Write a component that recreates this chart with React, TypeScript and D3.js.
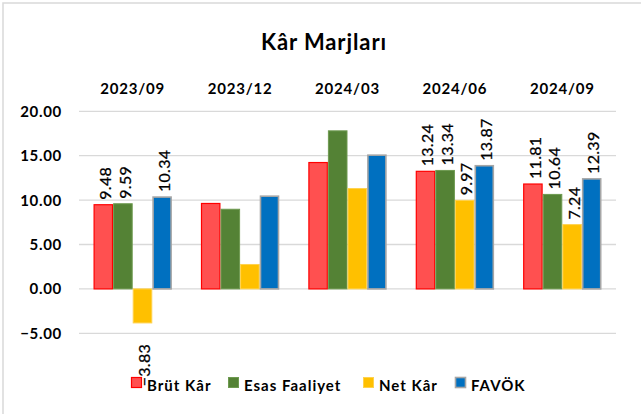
import React from "react";
import * as d3 from "d3";

const categories = ["2023/09", "2023/12", "2024/03", "2024/06", "2024/09"];
const seriesNames = ["Brüt Kâr", "Esas Faaliyet", "Net Kâr", "FAVÖK"];
const brutKar = [9.48, 9.62, 14.23, 13.24, 11.81];
const esasFaaliyet = [9.59, 8.97, 17.8, 13.34, 10.64];
const netKar = [-3.83, 2.75, 11.3, 9.97, 7.24];
const favok = [10.34, 10.44, 15.06, 13.87, 12.39];
const showLabels = [true, false, false, true, true];
const yTicks = [-5, 0, 5, 10, 15, 20];

const W = 641;
const H = 414;
const plot = { left: 79, right: 616, top: 111.3, bottom: 333.3 };
const FONT = "Lato, 'Open Sans', sans-serif";

const styles = [
  { fill: "#FF5050", stroke: "#FF0000", sw: 1.2 },
  { fill: "#548235", stroke: "#6E9A50", sw: 1 },
  { fill: "#FFC000", stroke: "#FFD24D", sw: 1 },
  { fill: "#0070C0", stroke: "#A6A6A6", sw: 1.6 },
];
const legendX = [131, 228, 363, 455];

export default function App() {
  const series = [brutKar, esasFaaliyet, netKar, favok];
  const x0 = d3
    .scaleBand<string>()
    .domain(categories)
    .range([plot.left, plot.right])
    .paddingInner(0.27)
    .paddingOuter(0.135);
  const x1 = d3
    .scaleBand<number>()
    .domain(d3.range(seriesNames.length))
    .range([0, x0.bandwidth()]);
  const y = d3.scaleLinear().domain([-5, 20]).range([plot.bottom, plot.top]);
  const fmt = d3.format(".2f");

  return (
    <svg
      width={W}
      height={H}
      style={{ position: "absolute", left: 0, top: 0, background: "#fff" }}
      fontFamily={FONT}
    >
      <rect x={3} y={3} width={W + 10} height={H + 10} fill="#fff" stroke="#D9D9D9" strokeWidth={1.5} />
      <text x={324} y={50} textAnchor="middle" fontSize={22} fontWeight={700} letterSpacing={0.9} fill="#000">
        Kâr Marjları
      </text>
      {categories.map((c) => (
        <text
          key={c}
          x={(x0(c) ?? 0) + x0.bandwidth() / 2}
          y={94}
          textAnchor="middle"
          fontSize={15}
          fontWeight={700}
          letterSpacing={0.8}
          fill="#000"
        >
          {c}
        </text>
      ))}
      {yTicks.map((t) => (
        <g key={t}>
          <line x1={plot.left} x2={plot.right} y1={y(t)} y2={y(t)} stroke="#D9D9D9" strokeWidth={1.3} />
          <text
            x={62}
            y={y(t) + 5.5}
            textAnchor="end"
            fontSize={15}
            fontWeight={700}
            letterSpacing={0.7}
            fill="#000"
          >
            {fmt(t)}
          </text>
        </g>
      ))}
      {categories.map((c, ci) => (
        <g key={c}>
          {series.map((vals, si) => {
            const v = vals[ci];
            const bx = (x0(c) ?? 0) + (x1(si) ?? 0);
            const by = y(Math.max(0, v));
            const bh = Math.abs(y(v) - y(0));
            const st = styles[si];
            return (
              <rect
                key={si}
                x={bx + st.sw / 2}
                y={by}
                width={x1.bandwidth() - st.sw}
                height={bh}
                fill={st.fill}
                stroke={st.stroke}
                strokeWidth={st.sw}
              />
            );
          })}
        </g>
      ))}
      {categories.map((c, ci) =>
        showLabels[ci]
          ? series.map((vals, si) => {
              const v = vals[ci];
              const cx = (x0(c) ?? 0) + (x1(si) ?? 0) + x1.bandwidth() / 2 + 2;
              const yy = v >= 0 ? y(v) - 5 : y(v) + 21;
              return (
                <text
                  key={c + si}
                  transform={`translate(${cx},${yy}) rotate(-90)`}
                  textAnchor={v >= 0 ? "start" : "end"}
                  dy="0.35em"
                  fontSize={16}
                  letterSpacing={0.3}
                  stroke="#000"
                  strokeWidth={0.25}
                  fill="#000"
                >
                  {fmt(v)}
                </text>
              );
            })
          : null
      )}
      {seriesNames.map((n, i) => {
        const st = styles[i];
        return (
          <g key={n} transform={`translate(${legendX[i]},377)`}>
            <rect x={0.5} y={0.5} width={10} height={10} fill={st.fill} stroke={st.stroke} strokeWidth={st.sw} />
            <text x={16} y={14} fontSize={15} fontWeight={700} letterSpacing={1} fill="#000">
              {n}
            </text>
          </g>
        );
      })}
    </svg>
  );
}
